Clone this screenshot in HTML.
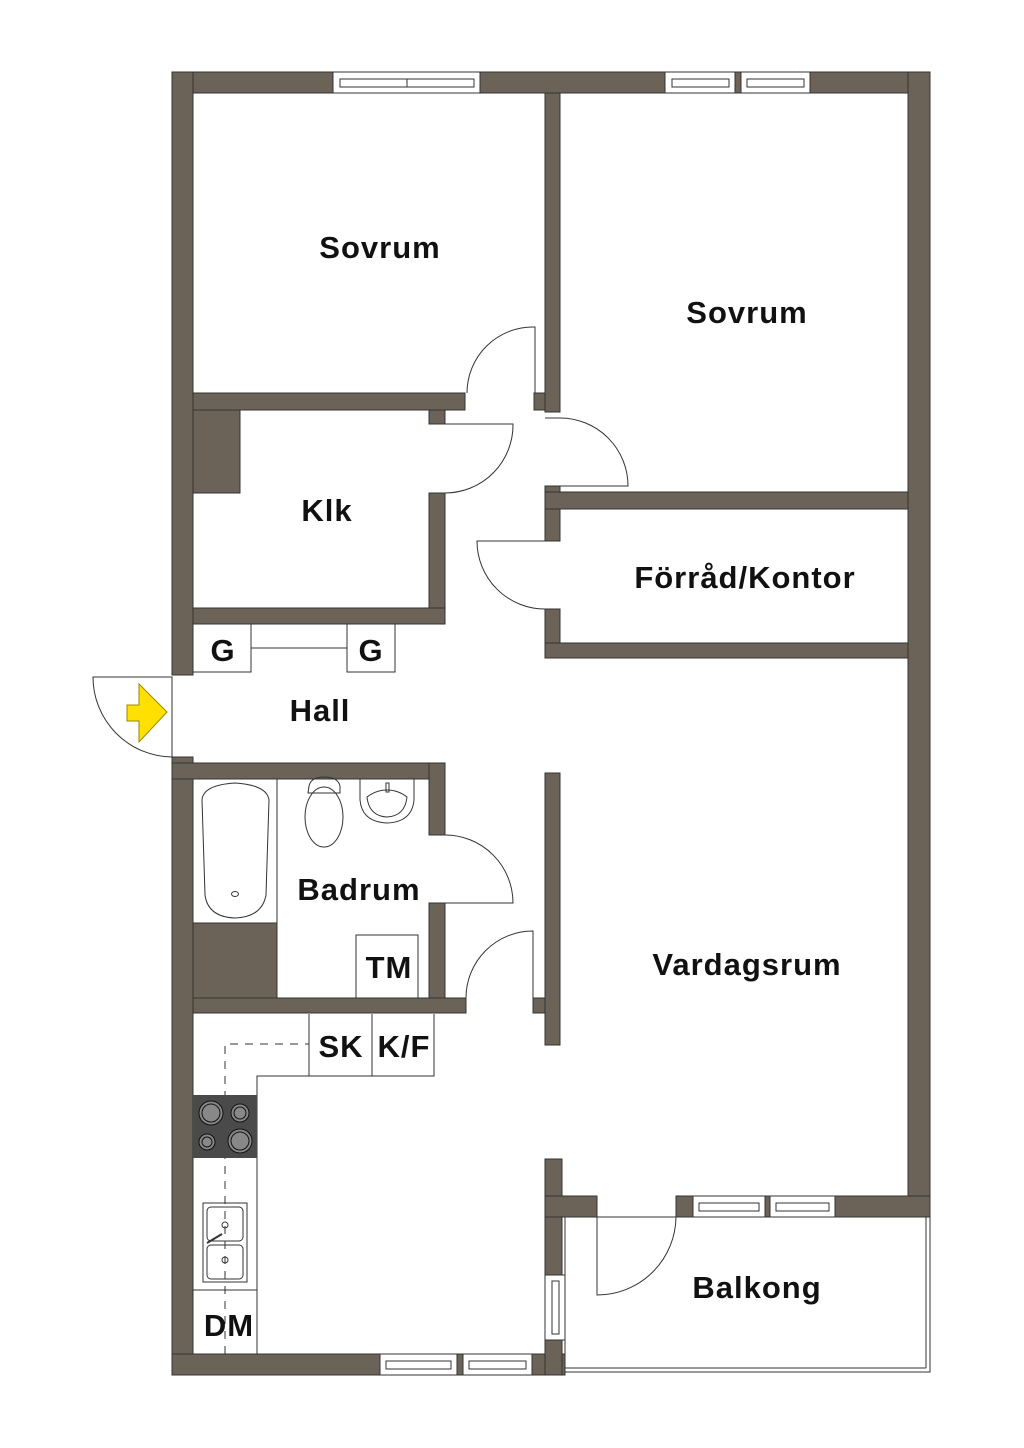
<!DOCTYPE html>
<html><head><meta charset="utf-8"><style>
html,body{margin:0;padding:0;background:#fff;}
svg{display:block;}
text{font-family:"Liberation Sans",sans-serif;font-size:31px;font-weight:bold;fill:#111;text-anchor:middle;letter-spacing:1px;}
</style></head><body>
<svg width="1024" height="1448" viewBox="0 0 1024 1448" xmlns="http://www.w3.org/2000/svg">
<g fill="#6b6357" stroke="#333" stroke-width="1">
<rect x="172" y="72" width="758" height="21"/>
<rect x="172" y="72" width="21" height="603"/>
<rect x="172" y="757" width="21" height="618"/>
<rect x="908" y="72" width="22" height="1145"/>
<rect x="172" y="1354" width="393" height="21"/>
<rect x="545" y="93" width="15" height="319"/>
<rect x="193" y="393" width="272" height="17"/>
<rect x="534" y="393" width="11" height="17"/>
<rect x="193" y="410" width="47" height="83"/>
<rect x="429" y="410" width="16" height="14"/>
<rect x="429" y="493" width="16" height="131"/>
<rect x="193" y="608" width="252" height="16"/>
<rect x="545" y="486" width="15" height="55"/>
<rect x="545" y="492" width="363" height="17"/>
<rect x="545" y="609" width="15" height="49"/>
<rect x="545" y="643" width="363" height="15"/>
<rect x="172" y="763" width="273" height="16"/>
<rect x="429" y="763" width="16" height="72"/>
<rect x="429" y="903" width="16" height="95"/>
<rect x="193" y="923" width="84" height="75"/>
<rect x="193" y="998" width="273" height="15"/>
<rect x="533" y="998" width="12" height="15"/>
<rect x="545" y="773" width="15" height="272"/>
<rect x="545" y="1159" width="17" height="216"/>
<rect x="545" y="1196" width="52" height="21"/>
<rect x="676" y="1196" width="254" height="21"/>
</g>
<g fill="#fff" stroke="#333" stroke-width="1">
<rect x="333" y="72" width="147" height="21"/>
<rect x="340" y="79" width="67" height="8"/><rect x="407" y="79" width="67" height="8"/>
<rect x="665" y="72" width="70" height="21"/><rect x="672" y="79" width="57" height="8"/>
<rect x="741" y="72" width="69" height="21"/><rect x="747" y="79" width="57" height="8"/>
<rect x="693" y="1196" width="72" height="21"/><rect x="699" y="1203" width="60" height="8"/>
<rect x="770" y="1196" width="65" height="21"/><rect x="776" y="1203" width="53" height="8"/>
<rect x="380" y="1354" width="77" height="21"/><rect x="386" y="1361" width="65" height="8"/>
<rect x="463" y="1354" width="69" height="21"/><rect x="469" y="1361" width="57" height="8"/>
<rect x="545" y="1275" width="20" height="65"/><rect x="552" y="1281" width="7" height="53"/>
</g>
<g fill="none" stroke="#333" stroke-width="1">
<rect x="565" y="1217" width="365" height="155"/>
<line x1="926" y1="1217" x2="926" y2="1368"/><line x1="565" y1="1368" x2="926" y2="1368"/>
<path d="M535,393 L535,327 A66,66 0 0 0 467,393"/>
<path d="M545,418 L560,418 A68,68 0 0 1 628,486 L560,486"/>
<path d="M429,424 L513,424 A68,68 0 0 1 445,493 L429,493"/>
<path d="M560,541 L477,541 A68,68 0 0 0 545,609 L560,609"/>
<path d="M172,677 L93,677 A80,80 0 0 0 172,757 Z"/>
<path d="M429,835 L445,835 A68,68 0 0 1 513,903 L429,903"/>
<path d="M466,998 A67,67 0 0 1 533,931 L533,998"/>
<path d="M597,1217 L597,1295 A79,79 0 0 0 676,1217"/>
<rect x="193" y="624" width="58" height="48"/><rect x="347" y="624" width="48" height="48"/>
<line x1="251" y1="648" x2="347" y2="648"/>
<rect x="193" y="779" width="84" height="144"/>
<path d="M202,800 Q203,785 235,783 Q267,785 269,800 L266,895 Q262,917 235,918 Q208,917 205,895 Z"/>
<ellipse cx="235" cy="894" rx="3.5" ry="2.5"/>
<path d="M309,786 Q311,777 324,777 Q338,777 340,786 L340,793 L308,793 Z"/>
<ellipse cx="324" cy="817" rx="19" ry="30"/>
<line x1="308" y1="793" x2="340" y2="793"/>
<path d="M360,779 L360,800 Q362,822 387,823 Q412,822 414,800 L414,779"/>
<path d="M367,797 Q369,816 387,817 Q405,816 407,797 Q398,790 387,790 Q376,790 367,797 Z"/>
<rect x="386" y="783" width="3" height="9"/>
<rect x="356" y="935" width="62" height="63"/>
<path d="M193,1014 L193,1354 M257,1354 L257,1076 L434,1076 L434,1014"/>
<line x1="309" y1="1014" x2="309" y2="1076"/><line x1="372" y1="1014" x2="372" y2="1076"/>
<line x1="193" y1="1290" x2="257" y2="1290"/>
<path d="M225,1354 L225,1044 L309,1044" stroke-dasharray="8,7"/>
<rect x="203" y="1203" width="44" height="79"/>
<rect x="207" y="1207" width="36" height="34" rx="4"/><rect x="207" y="1245" width="36" height="34" rx="4"/>
<circle cx="225" cy="1225" r="3"/><circle cx="225" cy="1260" r="3"/>
<line x1="207" y1="1243" x2="222" y2="1234" stroke-width="2"/>
</g>
<rect x="193" y="1095" width="64" height="63" fill="#4a4a4a"/>
<g fill="#888" stroke="#111" stroke-width="1">
<circle cx="211" cy="1113" r="12"/><circle cx="240" cy="1113" r="9"/>
<circle cx="207" cy="1142" r="8"/><circle cx="240" cy="1141" r="12"/>
</g>
<g fill="none" stroke="#111" stroke-width="1">
<circle cx="211" cy="1113" r="9"/><circle cx="240" cy="1113" r="6"/>
<circle cx="207" cy="1142" r="5"/><circle cx="240" cy="1141" r="9"/>
</g>
<polygon points="139,684 167,712 139,742 139,721 127,721 127,705 139,705" fill="#ffe000" stroke="#9a8a00" stroke-width="1"/>
<text x="380" y="258">Sovrum</text>
<text x="747" y="323">Sovrum</text>
<text x="327" y="521">Klk</text>
<text x="745" y="588">Förråd/Kontor</text>
<text x="223" y="661">G</text>
<text x="371" y="661">G</text>
<text x="320" y="721">Hall</text>
<text x="359" y="900">Badrum</text>
<text x="389" y="978">TM</text>
<text x="747" y="975">Vardagsrum</text>
<text x="341" y="1057">SK</text>
<text x="404" y="1057">K/F</text>
<text x="229" y="1336">DM</text>
<text x="757" y="1298">Balkong</text>
</svg>
</body></html>
